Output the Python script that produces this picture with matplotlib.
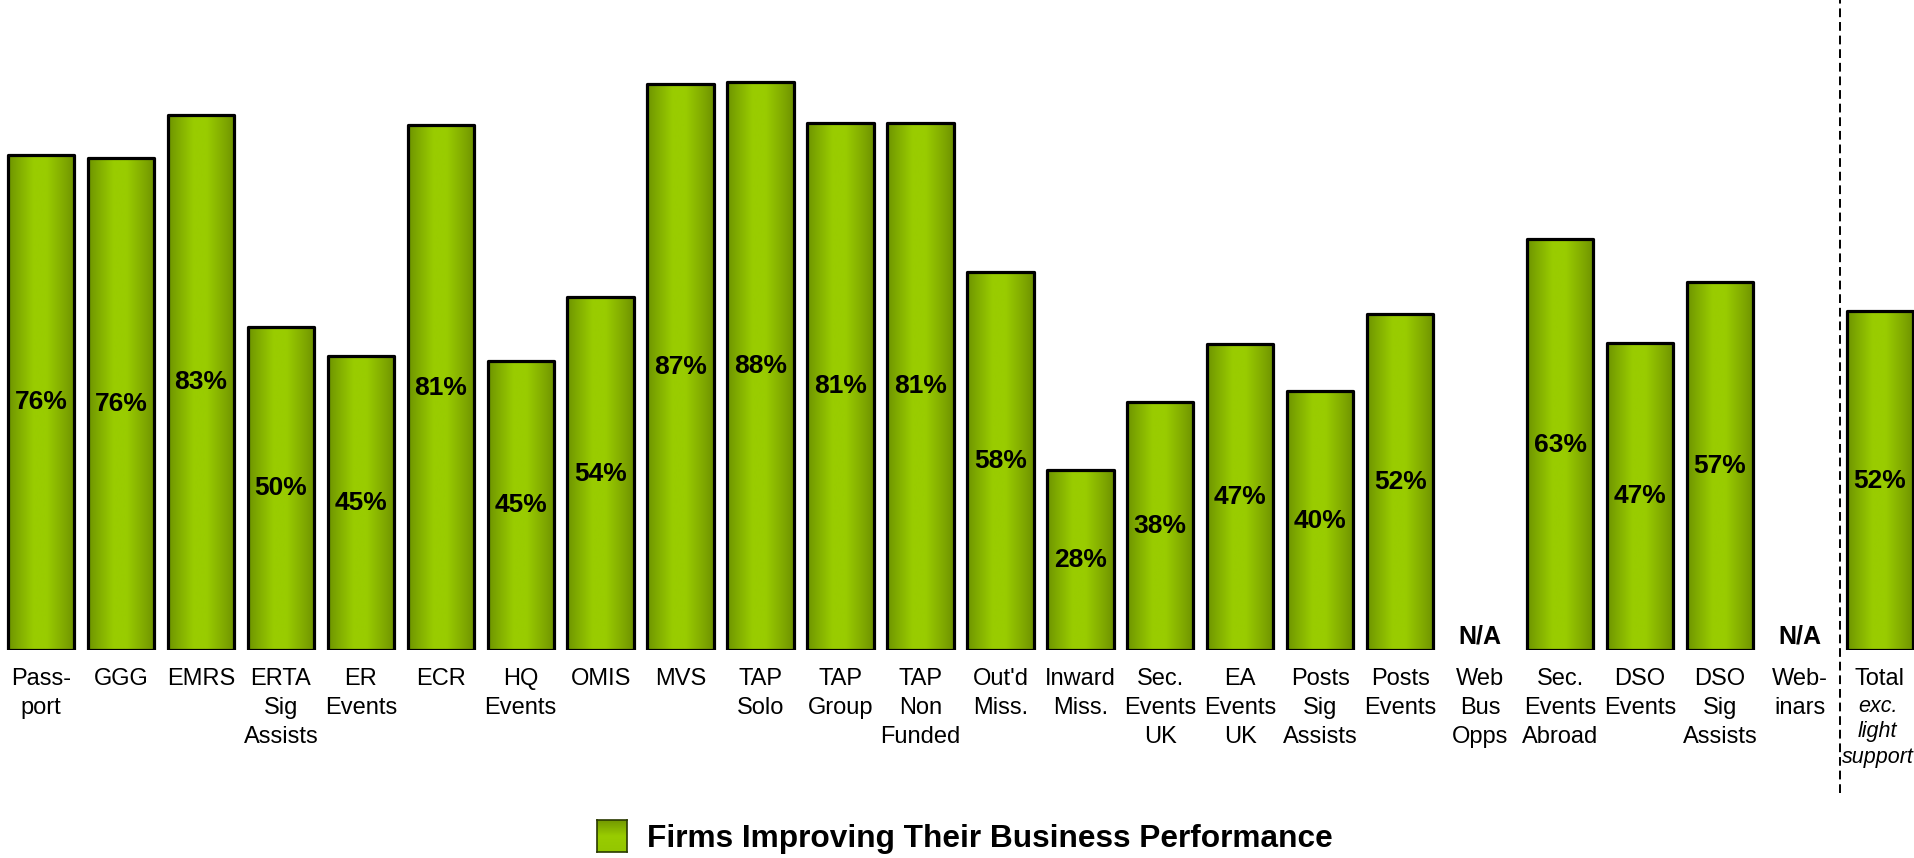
import numpy as np
import matplotlib

matplotlib.use('Agg')
import matplotlib.pyplot as plt
from matplotlib.colors import LinearSegmentedColormap

plt.rcParams['font.family'] = ['Liberation Sans', 'DejaVu Sans']

# Share of firms improving business performance, by service (None = no data)
categories = [
    ['Pass-', 'port'], ['GGG'], ['EMRS'], ['ERTA', 'Sig', 'Assists'],
    ['ER', 'Events'], ['ECR'], ['HQ', 'Events'], ['OMIS'], ['MVS'],
    ['TAP', 'Solo'], ['TAP', 'Group'], ['TAP', 'Non', 'Funded'],
    ["Out'd", 'Miss.'], ['Inward', 'Miss.'], ['Sec.', 'Events', 'UK'],
    ['EA', 'Events', 'UK'], ['Posts', 'Sig', 'Assists'], ['Posts', 'Events'],
    ['Web', 'Bus', 'Opps'], ['Sec.', 'Events', 'Abroad'], ['DSO', 'Events'],
    ['DSO', 'Sig', 'Assists'], ['Web-', 'inars'], ['Total'],
]
values = [76.4, 76.0, 82.6, 49.9, 45.3, 81.0, 44.6, 54.4, 87.4, 87.6, 81.4, 81.4,
          58.3, 27.8, 38.2, 47.2, 39.9, 51.8, None, 63.4, 47.4, 56.8, None, 52.3]
total_note = ['exc.', 'light', 'support']
legend_label = 'Firms Improving Their Business Performance'

# horizontal shading used inside every bar
bar_cmap = LinearSegmentedColormap.from_list('bar_shade', [
    (0.00, (0.43, 0.58, 0.00)),
    (0.15, (0.50, 0.67, 0.00)),
    (0.38, (0.60, 0.80, 0.00)),
    (0.58, (0.60, 0.80, 0.00)),
    (0.85, (0.50, 0.66, 0.00)),
    (1.00, (0.43, 0.57, 0.00)),
])
shade = np.linspace(0, 1, 256).reshape(1, -1)

fig = plt.figure(figsize=(19.15, 8.58), dpi=100)
ax = fig.add_axes([0, 208 / 858, 1, 648 / 858])
ax.axis('off')

x = np.arange(len(values))
for i, v in enumerate(values):
    if v is None:
        ax.annotate('N/A', xy=(i, 0), xytext=(0, 1), textcoords='offset pixels',
                    ha='center', va='bottom', fontsize=18, fontweight='bold')
        continue
    bar = ax.bar(i, v, width=0.83, facecolor='none', edgecolor='black',
                 linewidth=2.3, joinstyle='round', zorder=3)[0]
    img = ax.imshow(shade, cmap=bar_cmap, aspect='auto', zorder=2,
                    extent=[i - 0.415, i + 0.415, 0, v])
    img.set_clip_path(bar)
    ax.text(i, v / 2, f'{v:.0f}%', ha='center', va='center',
            fontsize=19, fontweight='bold', zorder=4)

# category names under the bars, one line at a time
for i, lines in enumerate(categories):
    for k, line in enumerate(lines):
        ax.annotate(line, xy=(i, 0), xytext=(0, -29 * (k + 1)),
                    textcoords='offset pixels', ha='center', va='center',
                    fontsize=17, annotation_clip=False)
for k, line in enumerate(total_note):
    ax.annotate(line, xy=(x[-1], 0), xytext=(-2, -57 - 25 * k),
                textcoords='offset pixels', ha='center', va='center',
                fontsize=15.5, style='italic', annotation_clip=False)

# separator before the total
ax.plot([x[-1] - 0.5, x[-1] - 0.5], [-22, 100.5], color='black',
        linewidth=1.4, linestyle=(0, (4.5, 2.5)), clip_on=False)

ax.set_xlim(-0.513, 23.44)
ax.set_ylim(0, 100)

# legend swatch and label
lax = fig.add_axes([597 / 1915, 6 / 858, 30 / 1915, 32 / 858])
lax.imshow(shade.T, cmap=LinearSegmentedColormap.from_list('leg', [
    (0.45, 0.60, 0.0), (0.60, 0.80, 0.0), (0.58, 0.78, 0.0)]), aspect='auto')
lax.set_xticks([])
lax.set_yticks([])
for s in lax.spines.values():
    s.set_linewidth(1.2)
    s.set_color('#2a3a00')
fig.text(647 / 1915, 19 / 858, legend_label, ha='left', va='center',
         fontsize=22.8, fontweight='bold')

fig.savefig('out.png', dpi=100)
plt.close(fig)
